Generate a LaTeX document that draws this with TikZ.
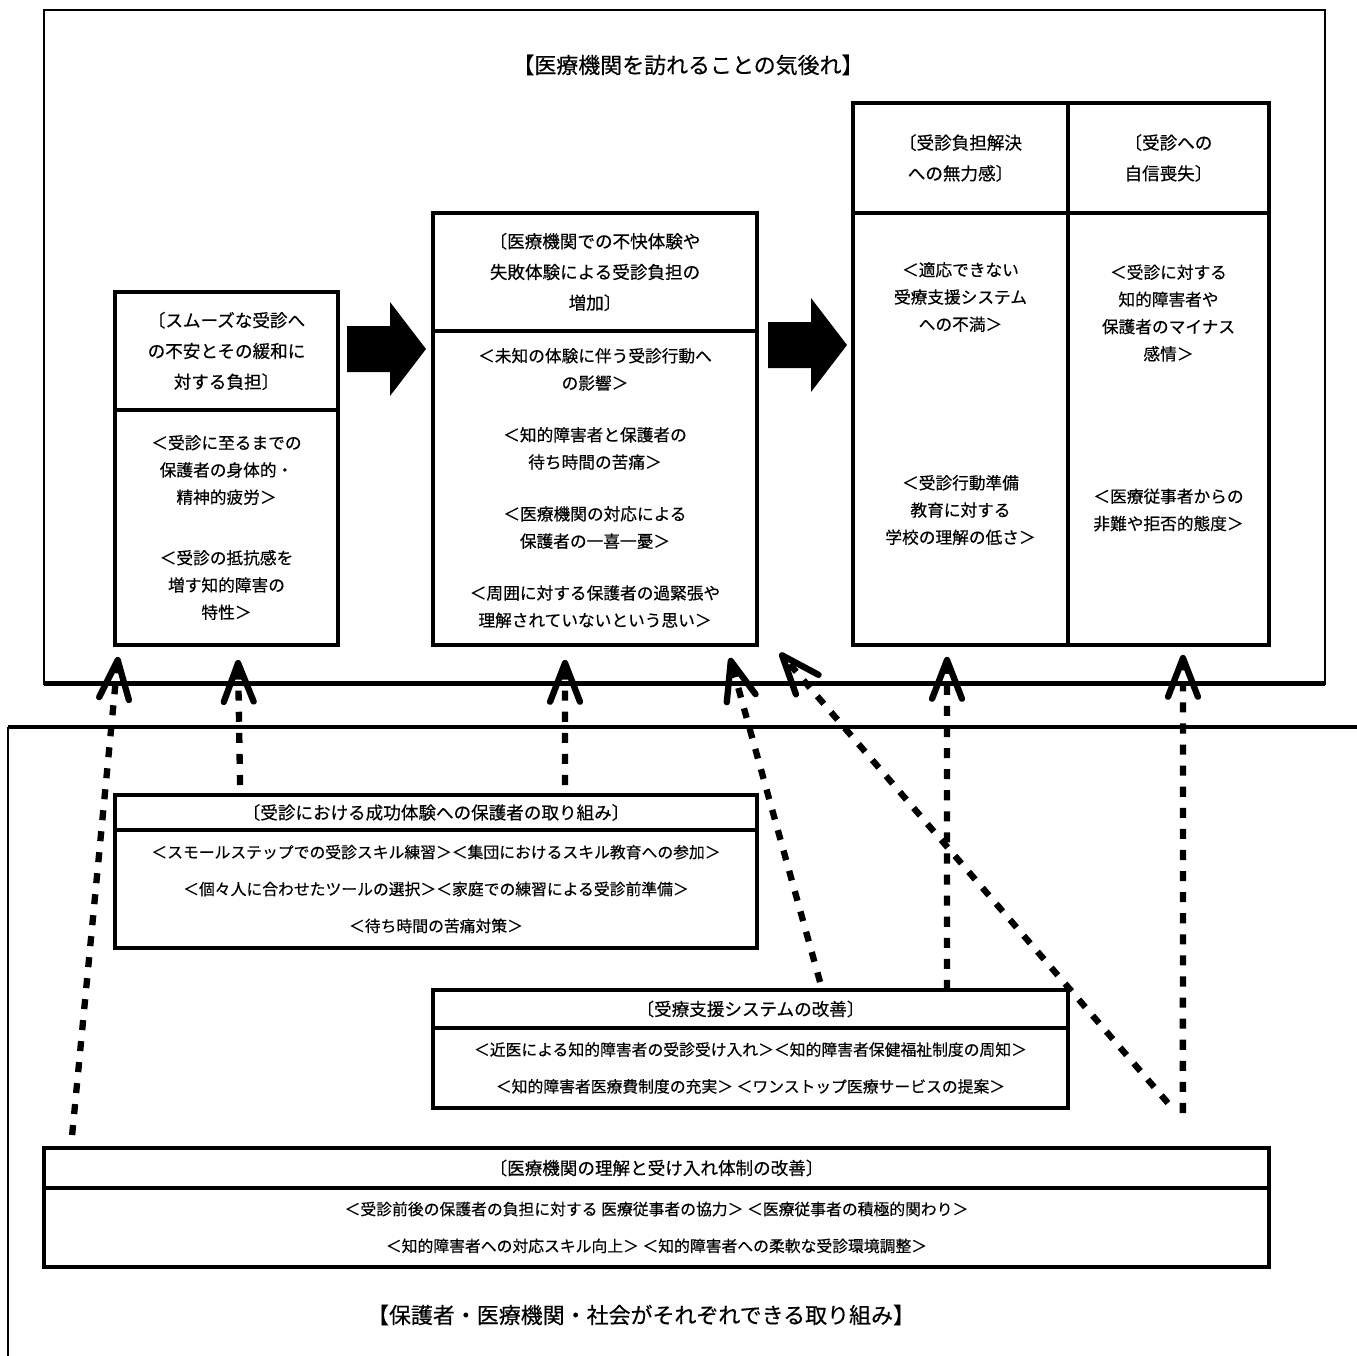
\documentclass[tikz,border=0pt]{standalone}
\usepackage{fontspec}
\setmainfont{Noto Sans CJK JP}[FakeBold=0.4]
\usetikzlibrary{calc,positioning,arrows.meta}

\tikzset{
  box/.style={draw, line width=1.9pt, outer sep=0pt, inner sep=2pt, align=center},
  headbox/.style={box, font=\fontsize{10pt}{17.5pt}\selectfont},
  bodybox/.style={box, font=\fontsize{9.5pt}{15.5pt}\selectfont},
  linebox/.style={box, font=\fontsize{9pt}{21pt}\selectfont},
  bodytext/.style={align=center, font=\fontsize{9.5pt}{15.5pt}\selectfont},
  titletext/.style={font=\fontsize{12.5pt}{15pt}\selectfont},
  dotarrow/.style={line width=3.6pt, dash pattern=on 5.7pt off 6.3pt,
    -{Straight Barb[length=22pt,width=17pt,round]}},
  bigarrow/.pic={\fill (0,-23) -- (43,-23) -- (43,-47) -- (79,0) -- (43,47) -- (43,23) -- (0,23) -- cycle;}
}

\begin{document}
\begin{tikzpicture}[x=0.02cm,y=-0.02cm]
  \useasboundingbox (0,0) rectangle (1357,1356);

  \node[draw, line width=1.3pt, outer sep=0pt, minimum width=25.62cm, minimum height=13.48cm] (upper) at (684.5,347) {};
  \draw[line width=2.8pt] (upper.south west) -- (upper.south east);
  \node[titletext] (uptitle) at (688,65) {【医療機関を訪れることの気後れ】};

  \draw[line width=1.8pt] (1357,727) -- (8,727);
  \draw[line width=1.2pt] (8,727) -- (8,1356);
  \node[titletext] (lowtitle) at (641,1315) {【保護者・医療機関・社会がそれぞれできる取り組み】};

  \node[headbox, minimum width=4.46cm, minimum height=2.36cm] (a1h) at (226.5,351)
    {〔スムーズな受診へ\\の不安とその緩和に\\対する負担〕};
  \node[bodybox, minimum width=4.46cm, minimum height=4.70cm, below=0pt of a1h] (a1b)
    {＜受診に至るまでの\\保護者の身体的・\\精神的疲労＞\\[19pt]＜受診の抵抗感を\\増す知的障害の\\特性＞};

  \node[headbox, minimum width=6.48cm, minimum height=2.36cm] (b1h) at (595,272)
    {〔医療機関での不快体験や\\失敗体験による受診負担の\\増加〕};
  \node[bodybox, minimum width=6.48cm, minimum height=6.28cm, below=0pt of b1h] (b1b)
    {＜未知の体験に伴う受診行動へ\\の影響＞\\[14pt]＜知的障害者と保護者の\\待ち時間の苦痛＞\\[14pt]＜医療機関の対応による\\保護者の一喜一憂＞\\[14pt]＜周囲に対する保護者の過緊張や\\理解されていないという思い＞};

  \node[headbox, minimum width=4.30cm, minimum height=2.2cm] (c1h) at (960.5,158)
    {〔受診負担解決\\への無力感〕};
  \node[headbox, minimum width=4.02cm, minimum height=2.2cm, right=0pt of c1h] (c2h)
    {〔受診への\\自信喪失〕};
  \node[box, minimum width=4.30cm, minimum height=8.64cm, below=0pt of c1h] (c1b) {};
  \node[box, minimum width=4.02cm, minimum height=8.64cm, below=0pt of c2h] (c2b) {};
  \node[bodytext] (c1t1) at (960.5,297) {＜適応できない\\受療支援システム\\への不満＞};
  \node[bodytext] (c1t2) at (960.5,510) {＜受診行動準備\\教育に対する\\学校の理解の低さ＞};
  \node[bodytext] (c2t1) at (1168.5,313) {＜受診に対する\\知的障害者や\\保護者のマイナス\\感情＞};
  \node[bodytext] (c2t2) at (1168.5,510) {＜医療従事者からの\\非難や拒否的態度＞};

  \pic at (347,349) {bigarrow};
  \pic at (768,345) {bigarrow};

  \node[headbox, minimum width=12.84cm, minimum height=0.7cm] (d1h) at (436,812.5)
    {〔受診における成功体験への保護者の取り組み〕};
  \node[linebox, minimum width=12.84cm, minimum height=2.36cm, below=0pt of d1h] (d1b)
    {＜スモールステップでの受診スキル練習＞＜集団におけるスキル教育への参加＞\\＜個々人に合わせたツールの選択＞＜家庭での練習による受診前準備＞\\＜待ち時間の苦痛対策＞};

  \node[headbox, minimum width=12.7cm, minimum height=0.76cm] (e1h) at (750.5,1009)
    {〔受療支援システムの改善〕};
  \node[linebox, minimum width=12.7cm, minimum height=1.6cm, below=0pt of e1h] (e1b)
    {＜近医による知的障害者の受診受け入れ＞＜知的障害者保健福祉制度の周知＞\\＜知的障害者医療費制度の充実＞ ＜ワンストップ医療サービスの提案＞};

  \node[headbox, minimum width=24.5cm, minimum height=0.8cm] (f1h) at (656.5,1168)
    {〔医療機関の理解と受け入れ体制の改善〕};
  \node[linebox, minimum width=24.5cm, minimum height=1.58cm, below=0pt of f1h] (f1b)
    {＜受診前後の保護者の負担に対する 医療従事者の協力＞ ＜医療従事者の積極的関わり＞\\＜知的障害者への対応スキル向上＞ ＜知的障害者への柔軟な受診環境調整＞};

  \draw[dotarrow] ($(f1h.north west)+(28,-13)$) -- ($(a1b.south west)+(3,12)$);
  \draw[dotarrow] ($(d1h.north west)+(125,-10)$) -- ($(a1b.south west)+(123,15)$);
  \draw[dotarrow] ($(d1h.north west)+(450,-10)$) -- ($(b1b.south west)+(132,15)$);
  \draw[dotarrow] ($(e1h.north west)+(387,-8)$) -- ($(b1b.south east)+(-27,13)$);
  \draw[dotarrow] ($(e1h.north east)+(100,113)$) -- ($(b1b.south east)+(23,8)$);
  \draw[dotarrow] ($(e1h.north west)+(514,0)$) -- ($(c1b.south west)+(94,12)$);
  \draw[dotarrow] ($(f1h.north east)+(-86,-35)$) -- ($(c2b.south west)+(115,10)$);
\end{tikzpicture}
\end{document}
